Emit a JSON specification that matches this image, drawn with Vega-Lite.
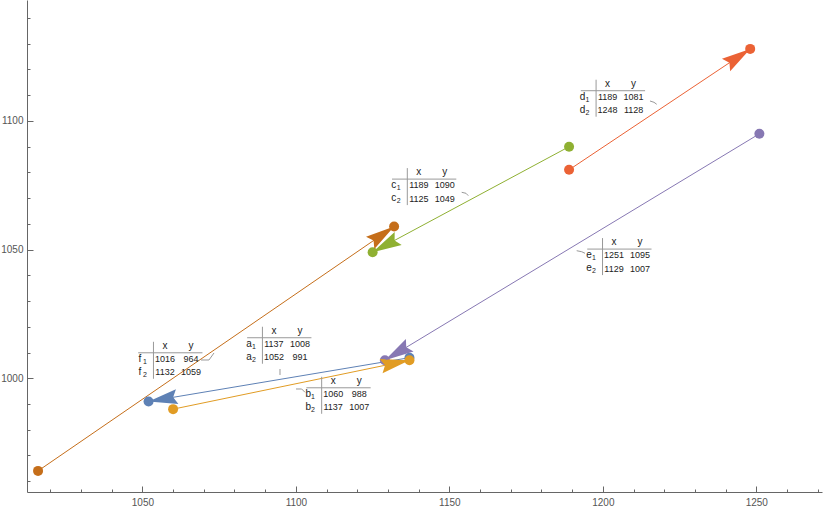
{
  "$schema": "https://vega.github.io/schema/vega-lite/v6.json",
  "width": 795,
  "height": 492,
  "autosize": "none",
  "padding": {"left": 27, "top": 0, "right": 3, "bottom": 17},
  "config": {"view": {"stroke": null}, "font": "Liberation Sans"},
  "resolve": {"axis": {"x": "independent", "y": "independent"}},
  "datasets": {
    "arrows": [
      {"name": "a", "x1": 1137, "y1": 1008, "x2": 1052, "y2": 991, "tx": 1089.1, "ty": 1015.75},
      {"name": "b", "x1": 1060, "y1": 988, "x2": 1137, "y2": 1007, "tx": 1108.4, "ty": 996.3},
      {"name": "c", "x1": 1189, "y1": 1090, "x2": 1125, "y2": 1049, "tx": 1136.3, "ty": 1077.4},
      {"name": "d", "x1": 1189, "y1": 1081, "x2": 1248, "y2": 1128, "tx": 1197.8, "ty": 1111.75},
      {"name": "e", "x1": 1251, "y1": 1095, "x2": 1129, "y2": 1007, "tx": 1199.9, "ty": 1050.2},
      {"name": "f", "x1": 1016, "y1": 964, "x2": 1132, "y2": 1059, "tx": 1053.6, "ty": 1009.9}
    ],
    "callouts": [
      {"id": "f", "ord": 1, "x": 1069.09, "y": 1007.1},
      {"id": "f", "ord": 2, "x": 1071.69, "y": 1007.1},
      {"id": "f", "ord": 3, "x": 1073.32, "y": 1009.82},
      {"id": "a", "ord": 1, "x": 1094.82, "y": 1003.6},
      {"id": "a", "ord": 2, "x": 1094.82, "y": 1001.27},
      {"id": "b", "ord": 1, "x": 1100.04, "y": 995.83},
      {"id": "b", "ord": 2, "x": 1101.89, "y": 995.83},
      {"id": "b", "ord": 3, "x": 1102.97, "y": 994.54},
      {"id": "c", "ord": 1, "x": 1154.02, "y": 1072.27},
      {"id": "c", "ord": 2, "x": 1155.42, "y": 1071.88},
      {"id": "c", "ord": 3, "x": 1156.17, "y": 1070.95},
      {"id": "d", "ord": 1, "x": 1215.36, "y": 1107.75},
      {"id": "d", "ord": 2, "x": 1216.67, "y": 1107.24},
      {"id": "d", "ord": 3, "x": 1217.55, "y": 1106.47},
      {"id": "e", "ord": 1, "x": 1191.48, "y": 1049.57},
      {"id": "e", "ord": 2, "x": 1193.11, "y": 1049.18},
      {"id": "e", "ord": 3, "x": 1194.19, "y": 1048.56}
    ]
  },
  "layer": [
    {
      "data": {"name": "arrows"},
      "mark": {"type": "rule", "strokeWidth": 1},
      "encoding": {
        "x": {"field": "x1", "type": "quantitative",
          "scale": {"domain": [1012.4, 1271.4], "nice": false, "zero": false},
          "axis": {
            "orient": "bottom", "title": null, "grid": false, "format": "d",
            "values": [1050, 1100, 1150, 1200, 1250],
            "tickSize": -6, "labelPadding": 11,
            "domainColor": "#666", "tickColor": "#666", "labelColor": "#555",
            "labelFontSize": 10, "labelFont": "Liberation Sans",
            "labelFlush": false, "labelOverlap": false
          }},
        "y": {"field": "y1", "type": "quantitative",
          "scale": {"domain": [955.8, 1147], "nice": false, "zero": false},
          "axis": {
            "orient": "left", "title": null, "grid": false, "format": "d",
            "values": [1000, 1050, 1100],
            "tickSize": -6, "labelPadding": 10,
            "domainColor": "#666", "tickColor": "#666", "labelColor": "#555",
            "labelFontSize": 10, "labelFont": "Liberation Sans",
            "labelFlush": false, "labelOverlap": false
          }},
        "x2": {"field": "x2"},
        "y2": {"field": "y2"},
        "color": {"field": "name", "type": "nominal",
          "scale": {"domain": ["a","b","c","d","e","f"], "range": ["#5E81B5","#E19C24","#8FB032","#EB6235","#8778B3","#C56E1A"]},
          "legend": null}
      }
    },
    {
      "data": {"name": "callouts"},
      "mark": {"type": "line", "color": "#999", "strokeWidth": 1},
      "encoding": {
        "x": {"field": "x", "type": "quantitative",
          "axis": {
            "orient": "bottom", "title": null, "grid": false, "labels": false, "domain": false,
            "values": [1020,1030,1040,1060,1070,1080,1090,1110,1120,1130,1140,1160,1170,1180,1190,1210,1220,1230,1240,1260,1270],
            "tickSize": -3, "tickColor": "#666"
          }},
        "y": {"field": "y", "type": "quantitative",
          "axis": {
            "orient": "left", "title": null, "grid": false, "labels": false, "domain": false,
            "values": [960,970,980,990,1010,1020,1030,1040,1060,1070,1080,1090,1110,1120,1130,1140],
            "tickSize": -3, "tickColor": "#666"
          }},
        "detail": {"field": "id"},
        "order": {"field": "ord", "type": "quantitative"}
      }
    },
    {
      "data": {"name": "arrows"},
      "mark": {"type": "point", "filled": true, "opacity": 1, "size": 100, "strokeWidth": 0},
      "encoding": {
        "x": {"field": "x1", "type": "quantitative", "axis": null},
        "y": {"field": "y1", "type": "quantitative", "axis": null},
        "color": {"field": "name", "type": "nominal", "legend": null}
      }
    },
    {
      "data": {"name": "arrows"},
      "mark": {"type": "point", "filled": true, "opacity": 1, "size": 100, "strokeWidth": 0},
      "encoding": {
        "x": {"field": "x2", "type": "quantitative", "axis": null},
        "y": {"field": "y2", "type": "quantitative", "axis": null},
        "color": {"field": "name", "type": "nominal", "legend": null}
      }
    },
    {
      "data": {"name": "arrows"},
      "transform": [{"calculate": "atan2(-(datum.y2-datum.y1)*2.5732, (datum.x2-datum.x1)*3.0695)*180/PI", "as": "angle"}],
      "mark": {"type": "point", "shape": "M0,0L-2,-0.51L-1.72,0L-2,0.51Z", "filled": true, "opacity": 1, "size": 841, "strokeWidth": 0},
      "encoding": {
        "x": {"field": "x2", "type": "quantitative", "axis": null},
        "y": {"field": "y2", "type": "quantitative", "axis": null},
        "color": {"field": "name", "type": "nominal", "legend": null},
        "angle": {"field": "angle", "type": "quantitative", "scale": null}
      }
    },
    {
      "data": {"name": "arrows"},
      "mark": {"type": "rule", "color": "#999", "strokeWidth": 1, "yOffset": -11, "y2Offset": 26},
      "encoding": {
        "x": {"field": "tx", "type": "quantitative", "axis": null},
        "y": {"field": "ty", "type": "quantitative", "axis": null},
        "y2": {"field": "ty"}
      }
    },
    {
      "data": {"name": "arrows"},
      "mark": {"type": "rule", "color": "#999", "strokeWidth": 1, "xOffset": -15.3, "x2Offset": 49},
      "encoding": {
        "x": {"field": "tx", "type": "quantitative", "axis": null},
        "x2": {"field": "tx"},
        "y": {"field": "ty", "type": "quantitative", "axis": null}
      }
    },
    {
      "data": {"name": "arrows"},
      "mark": {"type": "text", "text": "x", "fontSize": 10, "color": "#222", "baseline": "middle", "align": "center", "dx": 11.5, "dy": -7},
      "encoding": {"x": {"field": "tx", "type": "quantitative", "axis": null}, "y": {"field": "ty", "type": "quantitative", "axis": null}}
    },
    {
      "data": {"name": "arrows"},
      "mark": {"type": "text", "text": "y", "fontSize": 10, "color": "#222", "baseline": "middle", "align": "center", "dx": 37.5, "dy": -7},
      "encoding": {"x": {"field": "tx", "type": "quantitative", "axis": null}, "y": {"field": "ty", "type": "quantitative", "axis": null}}
    },
    {
      "data": {"name": "arrows"},
      "mark": {"type": "text", "fontSize": 10, "color": "#222", "baseline": "middle", "align": "center", "dx": -13.5, "dy": 5.8},
      "encoding": {"x": {"field": "tx", "type": "quantitative", "axis": null}, "y": {"field": "ty", "type": "quantitative", "axis": null}, "text": {"field": "name"}}
    },
    {
      "data": {"name": "arrows"},
      "mark": {"type": "text", "fontSize": 10, "color": "#222", "baseline": "middle", "align": "center", "dx": -13.5, "dy": 19},
      "encoding": {"x": {"field": "tx", "type": "quantitative", "axis": null}, "y": {"field": "ty", "type": "quantitative", "axis": null}, "text": {"field": "name"}}
    },
    {
      "data": {"name": "arrows"},
      "mark": {"type": "text", "text": "1", "fontSize": 7, "color": "#222", "baseline": "middle", "align": "center", "dx": -8.6, "dy": 9},
      "encoding": {"x": {"field": "tx", "type": "quantitative", "axis": null}, "y": {"field": "ty", "type": "quantitative", "axis": null}}
    },
    {
      "data": {"name": "arrows"},
      "mark": {"type": "text", "text": "2", "fontSize": 7, "color": "#222", "baseline": "middle", "align": "center", "dx": -8.6, "dy": 22.2},
      "encoding": {"x": {"field": "tx", "type": "quantitative", "axis": null}, "y": {"field": "ty", "type": "quantitative", "axis": null}}
    },
    {
      "data": {"name": "arrows"},
      "mark": {"type": "text", "fontSize": 9, "color": "#222", "baseline": "middle", "align": "center", "dx": 11.5, "dy": 6.4},
      "encoding": {"x": {"field": "tx", "type": "quantitative", "axis": null}, "y": {"field": "ty", "type": "quantitative", "axis": null}, "text": {"field": "x1", "type": "quantitative", "format": "d"}}
    },
    {
      "data": {"name": "arrows"},
      "mark": {"type": "text", "fontSize": 9, "color": "#222", "baseline": "middle", "align": "center", "dx": 37.5, "dy": 6.4},
      "encoding": {"x": {"field": "tx", "type": "quantitative", "axis": null}, "y": {"field": "ty", "type": "quantitative", "axis": null}, "text": {"field": "y1", "type": "quantitative", "format": "d"}}
    },
    {
      "data": {"name": "arrows"},
      "mark": {"type": "text", "fontSize": 9, "color": "#222", "baseline": "middle", "align": "center", "dx": 11.5, "dy": 19.6},
      "encoding": {"x": {"field": "tx", "type": "quantitative", "axis": null}, "y": {"field": "ty", "type": "quantitative", "axis": null}, "text": {"field": "x2", "type": "quantitative", "format": "d"}}
    },
    {
      "data": {"name": "arrows"},
      "mark": {"type": "text", "fontSize": 9, "color": "#222", "baseline": "middle", "align": "center", "dx": 37.5, "dy": 19.6},
      "encoding": {"x": {"field": "tx", "type": "quantitative", "axis": null}, "y": {"field": "ty", "type": "quantitative", "axis": null}, "text": {"field": "y2", "type": "quantitative", "format": "d"}}
    }
  ]
}
